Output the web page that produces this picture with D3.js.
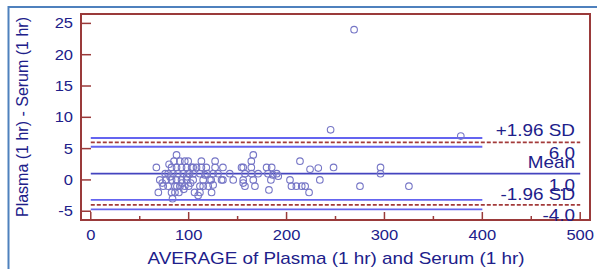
<!DOCTYPE html>
<html>
<head>
<meta charset="utf-8">
<script src="https://cdn.jsdelivr.net/npm/d3@7"></script>
<style>
  body { margin: 0; background: #fff; }
  svg { display: block; }
  text { font-family: "Liberation Sans", Arial, sans-serif; fill: #20208a; }
</style>
</head>
<body>
<svg id="chart" width="597" height="269"></svg>
<script>
// averages of the two methods (x) and their differences (y)
const avgValues = [
	67, 69, 70.5, 73, 74, 77, 79, 79, 80, 82.5, 82.5, 82.5, 83.5, 84, 86, 86,
	87.6, 87.6, 87.6, 89, 91, 91, 92.7, 92.7, 94.4, 96, 96, 97.8, 97.8, 99.5, 99.5,
	101, 103, 104.6, 104.6, 104.6, 106, 108, 90, 95, 100, 85, 88, 93, 98, 102, 76, 81,
	111.5, 111.5, 111.5, 109.7, 113, 113, 114.8, 114.8, 116.6, 120, 121.7, 123.4, 123,
	125, 125, 127, 127, 130, 133.6, 135, 135, 142, 145.5, 118, 119,
	154, 155.7, 155.7, 155.7, 157.5, 157.5, 164, 164, 164.3, 166, 166, 167.7, 171,
	179.6, 181, 184.8, 184, 186, 182, 190, 191.5,
	203.5, 205, 210, 213.7, 215.5, 219, 223, 224, 232.4, 234, 248, 245, 269, 275,
	296, 296, 325, 378
];
const diffValues = [
	2, -2, 0, -0.5, -1, 0, 1, -1, 2.5, 2, 0, -2, -3, 1, -1, -2,
	4, 2, 0, 1, 3, -1, 2, 0, 1, 3, -1, 2, 0, 3, 1,
	1, 2, 1, 0, 2, -2, 2, -2, -1.5, -1, 3, -1, -0.5, 0.5, -0.5, 1, 0.5,
	1, -1, -2, -2.5, 3, 2, 0, -1, 0.8, -1, 0, -2, 0,
	1, -0.8, 3, 2, 1, 0, 2, 0, 1, 0, 2, 1,
	2, 2, 0, -0.5, 1, -1, 3, 2, 1, 4, 0, -1, 1,
	2, 1, 2, 0, 0.8, -1.6, 1, 0.6,
	0, -1, -1, 3, -1, -1, -2, 1.7, 1.9, 0, 2, 8, 24, -1,
	2, 1, -1, 7
];

const xTicks = [0, 100, 200, 300, 400, 500];
const xMinorTicks = [50, 150, 250, 350, 450];
const yTicks = [-5, 0, 5, 10, 15, 20, 25];

// limits of agreement and their confidence intervals
const meanDiff = 1.0;
const limitValues = [6.0, -4.0];
const limitCiValues = [5.3, 6.7, -3.2, -4.7];
const lineExtent = [0, 500];
const ciExtent = [0, 400];

const svg = d3.select('#chart');
const stretch = 1.18;

const frame = {left: 81, right: 590, top: 14, bottom: 220};

const x = d3.scaleLinear().domain([-10, 510]).range([frame.left, frame.right]);
const y = d3.scaleLinear().domain([-6.4, 26.5]).range([frame.bottom, frame.top]);

// page border
svg.append('rect')
	.attr('x', 8.5).attr('y', 7)
	.attr('width', 640).attr('height', 300)
	.attr('fill', 'none')
	.attr('stroke', '#4f81bd')
	.attr('stroke-width', 2);

// horizontally widened text, like the original export
const wideText = (g, px, py, anchor, label, size) => {
	g.append('g')
		.attr('transform', `translate(${px},${py}) scale(${stretch},1)`)
		.append('text')
			.attr('text-anchor', anchor)
			.style('font-size', `${size}px`)
			.text(label);
};

const plot = svg.append('g');

// reference lines
const hLine = (value, extent, color, width, dash) => {
	plot.append('line')
		.attr('x1', x(extent[0])).attr('x2', x(extent[1]))
		.attr('y1', y(value)).attr('y2', y(value))
		.attr('stroke', color)
		.attr('stroke-width', width)
		.attr('stroke-dasharray', dash);
};

limitCiValues.forEach(v => hLine(v, ciExtent, '#6464f0', 1.8, null));
limitValues.forEach(v => hLine(v, lineExtent, '#a33a3a', 1.7, '4,2'));
hLine(meanDiff, lineExtent, '#4444bf', 1.8, null);

// points
plot.selectAll('circle.pt')
	.data(avgValues.map((a, i) => [a, diffValues[i]]))
	.enter()
	.append('circle')
		.attr('class', 'pt')
		.attr('cx', d => x(d[0]))
		.attr('cy', d => y(d[1]))
		.attr('r', 3.3)
		.attr('fill', 'none')
		.attr('stroke', '#7676c6')
		.attr('stroke-width', 1.1);

// frame
svg.append('rect')
	.attr('x', frame.left).attr('y', frame.top)
	.attr('width', frame.right - frame.left)
	.attr('height', frame.bottom - frame.top)
	.attr('fill', 'none')
	.attr('stroke', '#9a3a3a')
	.attr('stroke-width', 2);

// ticks
const axisG = svg.append('g').attr('stroke', '#9a3a3a').attr('stroke-width', 1.5);
yTicks.forEach(t => {
	axisG.append('line')
		.attr('x1', frame.left).attr('x2', frame.left + 10)
		.attr('y1', y(t)).attr('y2', y(t));
});
xTicks.forEach(t => {
	axisG.append('line')
		.attr('x1', x(t)).attr('x2', x(t))
		.attr('y1', frame.bottom).attr('y2', frame.bottom - 8);
});
xMinorTicks.forEach(t => {
	axisG.append('line')
		.attr('x1', x(t)).attr('x2', x(t))
		.attr('y1', frame.bottom).attr('y2', frame.bottom - 4);
});

// tick labels
yTicks.forEach(t => wideText(svg, 73, y(t) + 5, 'end', t, 14));
xTicks.forEach(t => wideText(svg, x(t), 240, 'middle', t, 14));

// limit labels (they overlap in the original too)
const labelX = 575;
wideText(svg, labelX, y(limitValues[0]) - 6, 'end', '+1.96 SD', 16);
wideText(svg, labelX, y(limitValues[0]) + 17, 'end', limitValues[0].toFixed(1), 16);
wideText(svg, labelX, y(meanDiff) - 6, 'end', 'Mean', 16);
wideText(svg, labelX, y(meanDiff) + 17, 'end', meanDiff.toFixed(1), 16);
wideText(svg, labelX, y(limitValues[1]) - 5, 'end', '-1.96 SD', 16);
wideText(svg, labelX, y(limitValues[1]) + 16, 'end', limitValues[1].toFixed(1), 16);

// axis titles
wideText(svg, 336, 264, 'middle', 'AVERAGE of Plasma (1 hr) and Serum (1 hr)', 16);
svg.append('text')
	.attr('transform', `translate(28,117) rotate(-90)`)
	.attr('text-anchor', 'middle')
	.style('font-size', '16px')
	.text('Plasma (1 hr) - Serum (1 hr)');
</script>
</body>
</html>
